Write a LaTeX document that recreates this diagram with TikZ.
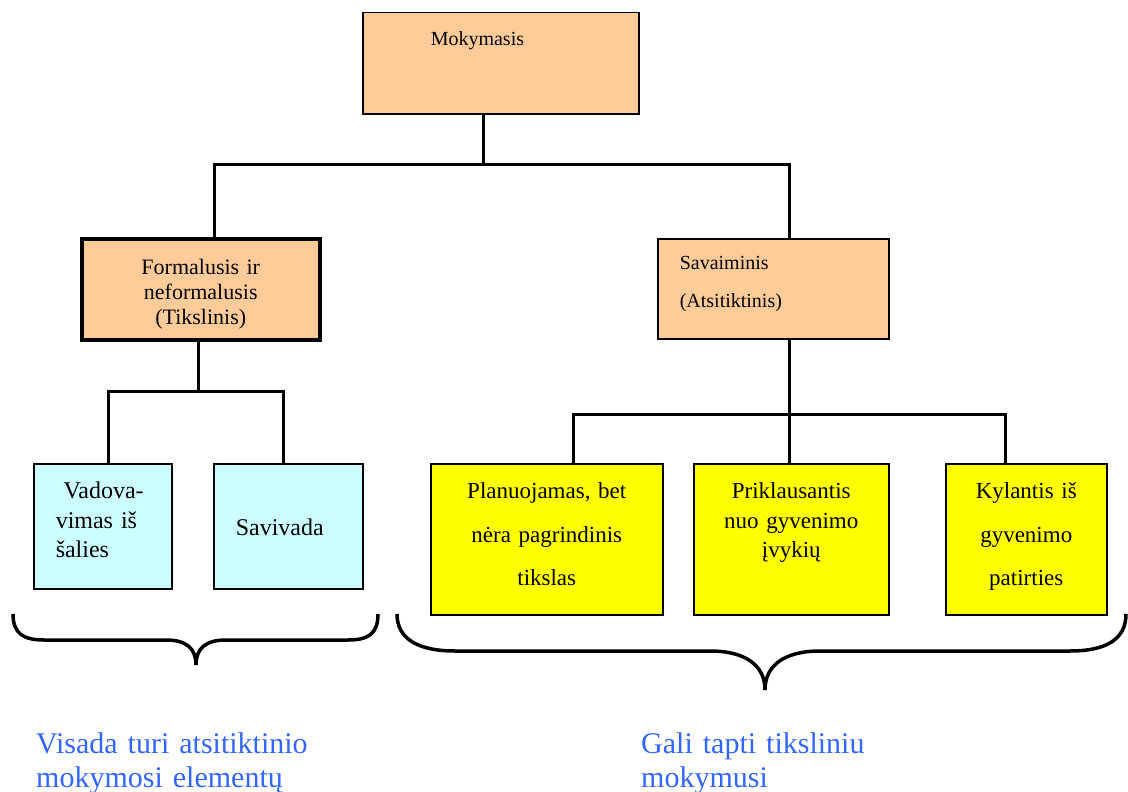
\documentclass[tikz,border=0pt]{standalone}
\usepackage{fontspec}
\setmainfont{Liberation Serif}
\usepackage{tikz}
\usepackage{xcolor}
\definecolor{peach}{HTML}{FFCC99}
\definecolor{lightcyan}{HTML}{CCFFFF}
\definecolor{brightyellow}{HTML}{FFFF00}
\definecolor{noteblue}{HTML}{3366FF}

\begin{document}
\begin{tikzpicture}[x=1pt, y=-1pt,
                box/.style={draw, line width=1.5pt, anchor=north west, inner ysep=0pt, inner xsep=4pt},
                peachbox/.style={box, fill=peach},
                cyanbox/.style={box, fill=lightcyan, align=left, inner xsep=22pt},
                yellowbox/.style={box, fill=brightyellow, align=center, text height=35pt, text depth=116pt},
                conn/.style={line width=3pt},
                bracelink/.style={line width=3.5pt},
                note/.style={anchor=base west, inner sep=0pt, align=left, text width=330pt, text=noteblue,
                        font=\fontsize{30}{34}\selectfont}]
                \useasboundingbox (0,0) rectangle (1128,792);
                \node[peachbox, align=left, inner xsep=68pt, text width=140pt, text height=33pt, text depth=68pt,
                        font=\fontsize{20}{24}\selectfont] (mok) at (362,12) {Mokymasis};
                \node[peachbox, line width=3.5pt, align=center, text width=230pt, text height=36pt, text depth=65pt,
                        font=\fontsize{22}{25}\selectfont] (form) at (80,237)
                        {Formalusis ir\\neformalusis\\(Tikslinis)};
                \node[peachbox, align=left, inner xsep=22pt, text width=187pt, text height=31pt, text depth=69pt,
                        font=\fontsize{20}{38}\selectfont] (sav) at (657,238)
                        {Savaiminis\\(Atsitiktinis)};
                \node[cyanbox, text width=94pt, text height=35pt, text depth=90pt,
                        font=\fontsize{24}{29.5}\selectfont] (vad) at (33,463)
                        {\hspace*{8pt}Vadova-\\vimas iš\\šalies};
                \node[cyanbox, text width=105pt, text height=72pt, text depth=53pt,
                        font=\fontsize{24}{29.5}\selectfont] (savi) at (213,463) {Savivada};
                \node[yellowbox, text width=224pt, font=\fontsize{23}{43.5}\selectfont] (plan) at (430,463)
                        {Planuojamas, bet\\nėra pagrindinis\\tikslas};
                \node[yellowbox, text width=187pt, font=\fontsize{23}{29.5}\selectfont] (prik) at (693,463)
                        {Priklausantis\\nuo gyvenimo\\įvykių};
                \node[yellowbox, text width=153pt, font=\fontsize{23}{43.5}\selectfont] (kyl) at (945,463)
                        {Kylantis iš\\gyvenimo\\patirties};

                \draw[conn] ([xshift=-17pt]mok.south) -- ++(0,50) coordinate (j1);
                \draw[conn] ([xshift=14pt]form.north) |- (j1) -| ([xshift=16.5pt]sav.north);
                \draw[conn] ([xshift=-2pt]form.south) -- ++(0,50) coordinate (j2);
                \draw[conn] ([xshift=6pt]vad.north) |- (j2) -| ([xshift=-4.5pt]savi.north);
                \draw[conn] ([xshift=16.5pt]sav.south) -- ++(0,75) coordinate (j3);
                \draw[conn] ([xshift=26.5pt]plan.north) |- (j3) -| ([xshift=-20.5pt]kyl.north);
                \draw[conn] (j3) -- ([xshift=-1.5pt]prik.north);

                \draw[bracelink] (13,614) .. controls (13,634) and (24,640) .. (44,640) -- (166,640)
                        .. controls (186,640) and (196,648) .. (196,665)
                        .. controls (196,648) and (206,640) .. (226,640) -- (348,640)
                        .. controls (368,640) and (378,634) .. (378,614);
                \draw[bracelink] (397,614) .. controls (397,640) and (420,651) .. (455,651) -- (710,651)
                        .. controls (745,651) and (765,665) .. (765,690)
                        .. controls (765,665) and (785,651) .. (820,651) -- (1070,651)
                        .. controls (1105,651) and (1126,640) .. (1126,614);

                \node[note] (leftnote) at (36,753) {Visada turi atsitiktinio\\mokymosi elementų};
                \node[note] (rightnote) at (641,753) {Gali tapti tiksliniu\\mokymusi};
            \end{tikzpicture}
\end{document}
